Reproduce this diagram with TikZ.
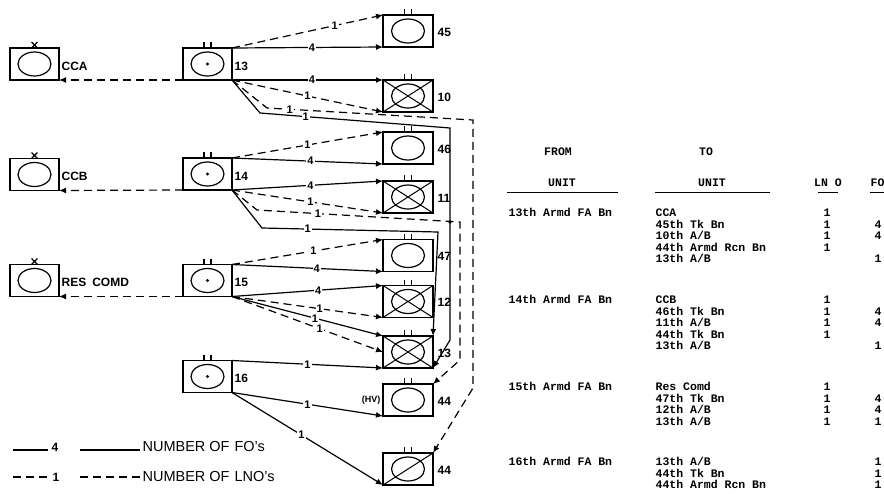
\documentclass[tikz,border=0pt]{standalone}
\usepackage{fontspec}
\setmainfont{Liberation Sans}
\newfontfamily\typew{Liberation Mono}
\usetikzlibrary{arrows.meta}
\begin{document}
\begin{tikzpicture}[x=1pt,y=-1pt,line width=1.2pt,
  box/.style={draw, line width=1.2pt, minimum width=49pt, minimum height=32pt, inner sep=0pt, outer sep=0pt},
  oval/.style={box, path picture={\draw[line width=1.2pt] (path picture bounding box.center) ellipse [x radius=16.5pt, y radius=12pt];}},
  fabox/.style={box, path picture={\draw[line width=1.2pt] (path picture bounding box.center) ellipse [x radius=16.5pt, y radius=12pt]; \fill (path picture bounding box.center) circle (1.6pt);}},
  infbox/.style={box, path picture={\draw[line width=1.2pt] (path picture bounding box.center) ellipse [x radius=16.5pt, y radius=12pt]; \draw[line width=1pt] (path picture bounding box.south west) -- (path picture bounding box.north east) (path picture bounding box.north west) -- (path picture bounding box.south east);}},
  rcnbox/.style={box, path picture={\draw[line width=1.2pt] (path picture bounding box.center) ellipse [x radius=16.5pt, y radius=12pt]; \draw[line width=1pt] (path picture bounding box.south west) -- (path picture bounding box.north east);}},
  wide/.style={minimum width=50pt},
  fo/.style={draw, line width=1.2pt, -{Latex[length=7pt,width=6pt]}},
  lno/.style={fo, dash pattern=on 8pt off 5pt},
  num/.style={fill=white, inner sep=1pt, font=\fontsize{11}{11}\selectfont\bfseries},
  lbl/.style={inner sep=0pt, font=\fontsize{12}{12}\selectfont\bfseries},
  leg/.style={inner sep=0pt, anchor=base west, font=\fontsize{14.5}{14.5}\selectfont},
  tw/.style={anchor=base west, inner sep=0pt, font=\typew\bfseries\fontsize{11.5}{11.5}\selectfont},
  twc/.style={tw, anchor=base},
]
\useasboundingbox (0,0) rectangle (884,493);

% ---------- left column
\node[oval] (cca) at (34.5,64) {};
\node[oval] (ccb) at (34.5,174.5) {};
\node[oval] (res) at (34.5,280.5) {};
\node[lbl,anchor=west] (lcca) at ([shift={(2,2)}]cca.east) {CCA};
\node[lbl,anchor=west] (lccb) at ([shift={(2,2)}]ccb.east) {CCB};
\node[lbl,anchor=west] (lres) at ([shift={(2,2)}]res.east) {RES\hspace{6pt}COMD};

% ---------- FA battalions
\node[fabox] (b13) at (207.5,64) {};
\node[fabox] (b14) at (207.5,174) {};
\node[fabox] (b15) at (207.5,280.5) {};
\node[fabox] (b16) at (207.5,376.5) {};
\node[lbl,anchor=west] (l13) at ([shift={(2,2)}]b13.east) {13};
\node[lbl,anchor=west] (l14) at ([shift={(2,2)}]b14.east) {14};
\node[lbl,anchor=west] (l15) at ([shift={(2,2)}]b15.east) {15};
\node[lbl,anchor=west] (l16) at ([shift={(2,2)}]b16.east) {16};

% ---------- supported units
\node[oval,wide]   (t45)  at (408,31) {};
\node[infbox,wide] (t10)  at (408,96) {};
\node[oval,wide]   (t46)  at (408,148) {};
\node[infbox,wide] (t11)  at (408,197) {};
\node[oval,wide]   (t47)  at (408,255.5) {};
\node[infbox,wide] (t12)  at (408,301.5) {};
\node[infbox,wide] (ta13) at (408,352) {};
\node[oval,wide]   (t44)  at (408,400) {};
\node[rcnbox,wide] (tr44) at (408,469) {};
\node[lbl,anchor=west] (m45) at ([shift={(4,1)}]t45.east) {45};
\node[lbl,anchor=west] (m10) at ([shift={(4,1)}]t10.east) {10};
\node[lbl,anchor=west] (m46) at ([shift={(4,1)}]t46.east) {46};
\node[lbl,anchor=west] (m11) at ([shift={(4,1)}]t11.east) {11};
\node[lbl,anchor=west] (m47) at ([shift={(4,1)}]t47.east) {47};
\node[lbl,anchor=west] (m12) at ([shift={(4,1)}]t12.east) {12};
\node[lbl,anchor=west] (m13) at ([shift={(4,1)}]ta13.east) {13};
\node[lbl,anchor=west] (m44) at ([shift={(4,1)}]t44.east) {44};
\node[lbl,anchor=west] (m44r) at ([shift={(4,1)}]tr44.east) {44};
\node[lbl,anchor=east,font=\fontsize{9}{9}\selectfont\bfseries] (hv) at ([shift={(-2,0)}]t44.west) {(HV)};

% ---------- echelon marks
\foreach \n in {cca,ccb,res}
  \draw ([xshift=-3pt]\n.north) -- ++(6,-6) ([xshift=3pt]\n.north) -- ++(-6,-6);
\foreach \n in {b13,b14,b15,b16,t45,t10,t46,t11,t47,t12,ta13,t44,tr44}
  \draw ([xshift=-3.5pt]\n.north) -- ++(0,-6) ([xshift=3.5pt]\n.north) -- ++(0,-6);

% ---------- liaison to commands
\draw[lno] (b13.south west) -- (cca.south east);
\draw[lno] (b14.south west) -- (ccb.south east);
\draw[lno] (b15.south west) -- (res.south east);

% ---------- 13th FA Bn
\draw[lno] (b13.north east) -- node[num,pos=.68]{1} (t45.north west);
\draw[fo]  (b13.north east) -- node[num,pos=.53]{4} (t45.south west);
\draw[fo]  (b13.south east) -- node[num,pos=.53]{4} (t10.north west);
\draw[lno] (b13.south east) -- node[num,pos=.5]{1} (t10.south west);
\coordinate (p13a) at (267,108);
\coordinate (p13b) at (473,120);
\coordinate (p13c) at (473,388);
\draw[lno] (b13.south east) -- (p13a) -- node[num,pos=.11]{1} (p13b) -- (p13c) -- (tr44.north east);
\coordinate (q13a) at (260,113);
\coordinate (q13b) at (450,128);
\coordinate (q13c) at (450,340);
\draw[fo] (b13.south east) -- (q13a) -- node[num,pos=.24]{1} (q13b) -- (q13c) -- (ta13.south east);

% ---------- 14th FA Bn
\draw[lno] (b14.north east) -- node[num,pos=.5]{1} (t46.north west);
\draw[fo]  (b14.north east) -- node[num,pos=.52]{4} (t46.south west);
\draw[fo]  (b14.south east) -- node[num,pos=.52]{4} (t11.north west);
\draw[lno] (b14.south east) -- node[num,pos=.52]{1} (t11.south west);
\coordinate (p14a) at (257,210);
\coordinate (p14b) at (460,222);
\coordinate (p14c) at (460,360);
\draw[lno] (b14.south east) -- (p14a) -- node[num,pos=.3]{1} (p14b) -- (p14c) -- (t44.north east);
\coordinate (q14a) at (262,228);
\coordinate (q14b) at (438,232);
\draw[fo] (b14.south east) -- (q14a) -- node[num,pos=.26]{1} (q14b) -- (ta13.north east);
\fill (450,222) circle (1.8pt);

% ---------- 15th FA Bn
\draw[lno] (b15.north east) -- node[num,pos=.54]{1} (t47.north west);
\draw[fo]  (b15.north east) -- node[num,pos=.56]{4} (t47.south west);
\draw[fo]  (b15.south east) -- node[num,pos=.57]{4} (t12.north west);
\draw[lno] (b15.south east) -- node[num,pos=.58]{1} (t12.south west);
\draw[fo]  (b15.south east) -- node[num,pos=.55]{1} (ta13.north west);
\draw[lno] (b15.south east) -- node[num,pos=.58]{1} (ta13.west);

% ---------- 16th FA Bn
\draw[fo] (b16.north east) -- node[num,pos=.5]{1} (ta13.south west);
\draw[fo] (b16.south east) -- node[num,pos=.5]{1} (t44.south west);
\draw[fo] (b16.south east) -- node[num,pos=.46]{1} (tr44.south west);

% ---------- legend
\draw (13,450) -- (48,450);
\node[leg,font=\fontsize{12}{12}\selectfont\bfseries] (lg4) at (51,451) {4};
\draw (80,450) -- (140,450);
\node[leg] (lgfo) at (142,451) {NUMBER OF\hspace{5pt}FO's};
\draw[dash pattern=on 8pt off 5pt] (13,477) -- (48,477);
\node[leg,font=\fontsize{12}{12}\selectfont\bfseries] (lg1) at (52,481) {1};
\draw[dash pattern=on 8pt off 5pt] (80,477) -- (140,477);
\node[leg] (lglno) at (142,481) {NUMBER OF\hspace{5pt}LNO's};

% ---------- table
\node[twc] (hfrom) at (558,155) {FROM};
\node[twc] (hto) at (706,155) {TO};
\node[twc] (hu1) at (562,186.5) {UNIT};
\node[twc] (hu2) at (712,186.5) {UNIT};
\node[twc] (hln) at (828,186.5) {LN O};
\node[tw] (hfo) at (870,186.5) {FO};
\draw (507,192.5) -- (618,192.5);
\draw (655,192.5) -- (770,192.5);
\draw (818,192.5) -- (838,192.5);
\draw (870,192.5) -- (884,192.5);

\node[tw] (fa13) at (508,216.5) {13th Armd FA Bn};
\foreach \t [count=\i from 0] in {CCA,45th Tk Bn,10th A/B,44th Armd Rcn Bn,13th A/B}
  \node[tw] (ua\i) at (655,216.5+11.5*\i) {\t};
\foreach \i in {0,1,2,3} \node[twc] (la\i) at (827,216.5+11.5*\i) {1};
\node[twc] (fa1) at (878,228) {4};
\node[twc] (fa2) at (878,239.5) {4};
\node[twc] (fa4) at (878,262.5) {1};

\node[tw] (fa14) at (508,303.5) {14th Armd FA Bn};
\foreach \t [count=\i from 0] in {CCB,46th Tk Bn,11th A/B,44th Tk Bn,13th A/B}
  \node[tw] (ub\i) at (655,303.5+11.5*\i) {\t};
\foreach \i in {0,1,2,3} \node[twc] (lb\i) at (827,303.5+11.5*\i) {1};
\node[twc] (fb1) at (878,315) {4};
\node[twc] (fb2) at (878,326.5) {4};
\node[twc] (fb4) at (878,349.5) {1};

\node[tw] (fa15) at (508,390.5) {15th Armd FA Bn};
\foreach \t [count=\i from 0] in {Res Comd,47th Tk Bn,12th A/B,13th A/B}
  \node[tw] (uc\i) at (655,390.5+11.5*\i) {\t};
\foreach \i in {0,1,2,3} \node[twc] (lc\i) at (827,390.5+11.5*\i) {1};
\node[twc] (fc1) at (878,402) {4};
\node[twc] (fc2) at (878,413.5) {4};
\node[twc] (fc3) at (878,425) {1};

\node[tw] (fa16) at (508,465.5) {16th Armd FA Bn};
\foreach \t [count=\i from 0] in {13th A/B,44th Tk Bn,44th Armd Rcn Bn}
  \node[tw] (ud\i) at (655,465.5+11.5*\i) {\t};
\foreach \i in {0,1,2} \node[twc] (fd\i) at (878,465.5+11.5*\i) {1};
\end{tikzpicture}
\end{document}
